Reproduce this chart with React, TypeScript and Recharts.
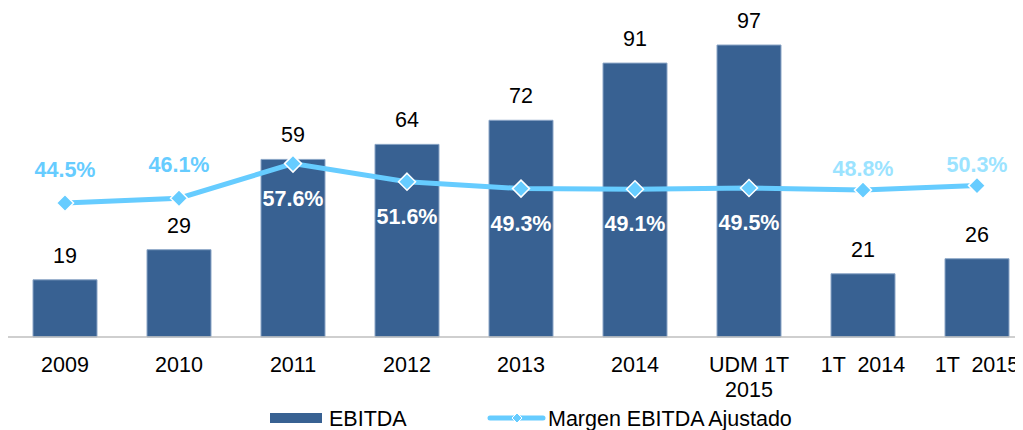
import React from 'react';
import { ComposedChart, Bar, Line, XAxis, YAxis, LabelList } from 'recharts';

const categories = ['2009', '2010', '2011', '2012', '2013', '2014', 'UDM 1T\n2015', '1T  2014', '1T  2015'];
const ebitda = [19, 29, 59, 64, 72, 91, 97, 21, 26];
const margin = [44.5, 46.1, 57.6, 51.6, 49.3, 49.1, 49.5, 48.8, 50.3];
const marginLabels = ['44.5%', '46.1%', '57.6%', '51.6%', '49.3%', '49.1%', '49.5%', '48.8%', '50.3%'];
const labelInside = [false, false, true, true, true, true, true, false, false];
const labelLight = [false, false, false, false, false, false, false, true, true];
const legendNames = ['EBITDA', 'Margen EBITDA Ajustado'];

const data = categories.map((c, i) => ({
  name: c,
  ebitda: ebitda[i],
  margin: margin[i],
}));

const FONT = '"Liberation Sans", Arial, sans-serif';
const BAR = '#386192';
const BAR_EDGE = '#8AA5C6';
const LINE = '#66CCFF';
const LIGHT = '#9BE3FF';

const XTick = (props: any) => {
  const { x, y, payload } = props;
  const lines = String(payload.value).split('\n');
  return (
    <text x={x} y={y} textAnchor="middle" fontFamily={FONT} fontSize={21.5} fill="#000" style={{ whiteSpace: 'pre' }}>
      {lines.map((l, i) => (
        <tspan key={i} x={x} dy={i === 0 ? 35 : 25}>{l}</tspan>
      ))}
    </text>
  );
};

const BarLabel = (props: any) => {
  const { x, y, width, value } = props;
  return (
    <text x={x + width / 2} y={y - 17} textAnchor="middle" fontFamily={FONT} fontSize={21.5} fill="#000">
      {value}
    </text>
  );
};

const MarginLabel = (props: any) => {
  const { x, y, index } = props;
  const inside = labelInside[index];
  const light = labelLight[index];
  const fill = inside ? '#FFFFFF' : light ? LIGHT : LINE;
  const ty = inside ? y + 42 : light ? y - 14 : y - 26;
  return (
    <text x={x} y={ty} textAnchor="middle" fontFamily={FONT} fontSize={21.5} fontWeight="bold" fill={fill}>
      {marginLabels[index]}
    </text>
  );
};

const Diamond = (props: any) => {
  const { cx, cy } = props;
  const r = 8.5;
  return (
    <path
      d={`M${cx},${cy - r} L${cx + r},${cy} L${cx},${cy + r} L${cx - r},${cy} Z`}
      fill={LINE}
      stroke="#FFFFFF"
      strokeWidth={1.5}
    />
  );
};

const LegendBox = () => (
  <svg width={1015} height={24} style={{ position: 'absolute', left: 0, top: 400, display: 'block' }}>
    <rect x={262} y={5} width={52} height={10} fill={BAR} />
    <text x={321} y={18} fontFamily={FONT} fontSize={21.5} fill="#000">{legendNames[0]}</text>
    <line x1={482} y1={10} x2={535} y2={10} stroke={LINE} strokeWidth={5} strokeLinecap="round" />
    <path d="M509,5 L514,10 L509,15 L504,10 Z" fill={LINE} stroke="#fff" strokeWidth={1} />
    <text x={540} y={18} fontFamily={FONT} fontSize={21.5} fill="#000">{legendNames[1]}</text>
  </svg>
);

export default function App() {
  return (
    <div style={{ width: 1015, height: 422, position: 'relative' }}>
      <style>{`html, body { overflow: hidden; }`}</style>
      <ComposedChart
        width={1026}
        height={422}
        data={data}
        margin={{ top: 28, right: 0, bottom: 33, left: 0 }}
        barCategoryGap={0}
      >
        <XAxis
          dataKey="name"
          interval={0}
          tickLine={false}
          tickSize={0}
          tickMargin={0}
          height={60}
          axisLine={{ stroke: '#BFBFBF', strokeWidth: 1.5 }}
          tick={<XTick />}
        />
        <YAxis hide domain={[0, 100]} width={0} />
        <Bar dataKey="ebitda" fill={BAR} stroke={BAR_EDGE} strokeWidth={1} barSize={64} isAnimationActive={false}>
          <LabelList dataKey="ebitda" content={<BarLabel />} />
        </Bar>
        <Line
          dataKey="margin"
          stroke={LINE}
          strokeWidth={5}
          dot={<Diamond />}
          activeDot={false}
          isAnimationActive={false}
        >
          <LabelList dataKey="margin" content={<MarginLabel />} />
        </Line>
      </ComposedChart>
      <LegendBox />
    </div>
  );
}
